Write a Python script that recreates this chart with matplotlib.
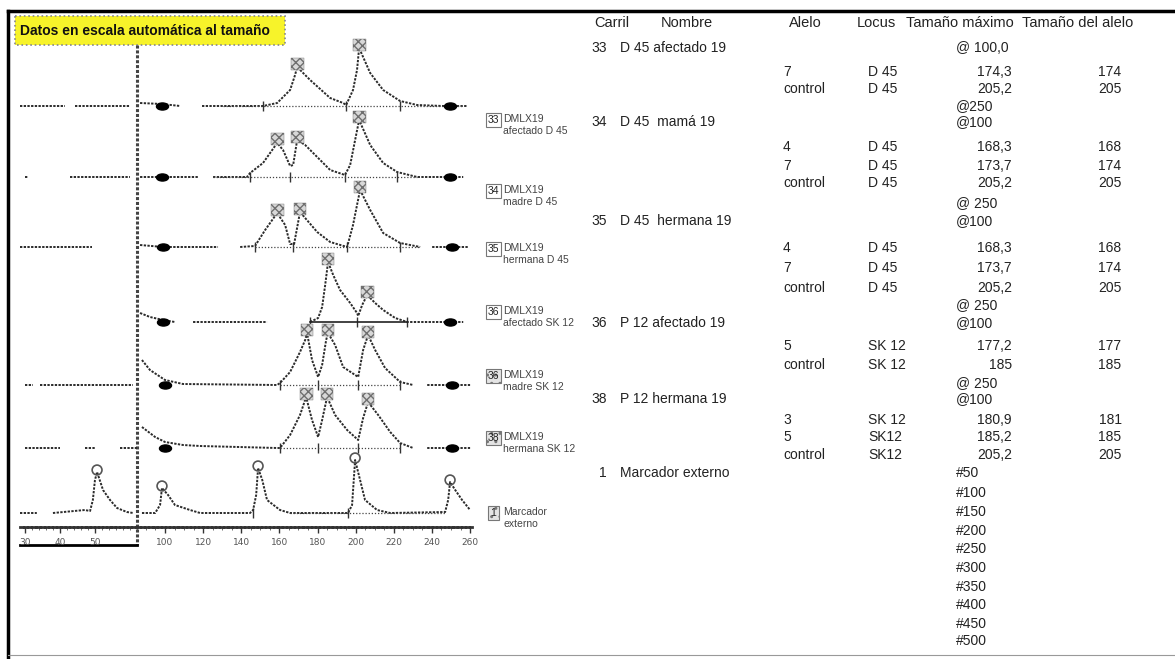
import matplotlib
matplotlib.use("Agg")
import matplotlib.pyplot as plt
from matplotlib.patches import Rectangle
from matplotlib.path import Path
from matplotlib.transforms import Affine2D
import numpy as np

nan = np.nan
W, H = 1175, 659

# ---- electropherogram traces (x in bp, h = signal above lane baseline) ----
lane33_x = [86.9, 98.4, 107.9, nan, 119.4, 128.9, 151.4, 158.8, 165.6, 168.2, 169.3, 176.1, 186.6, 193.4, 195.0,
            198.6, 200.7, 201.8, 207.6, 214.4, 223.3, 232.2, 245.9, 249.5, 258.5]
lane33_h = [3, 2, 0, nan, 0, 0, 0, 3, 16, 31, 39, 26, 8, 3, 1, 16, 36, 58, 33, 16, 5, 1, 0, 0, 0]

lane34_x = [86.9, 98.4, 117.3, nan, 125.2, 143.0, 144.6, 151.4, 158.8, 161.9, 165.6, 167.2, 169.3, 173.5, 179.8,
            186.6, 194.4, 197.1, 199.7, 201.8, 207.6, 214.4, 221.7, 232.2, 244.3, 249.5, 256.4]
lane34_h = [0, 0, 0, nan, 0, 0, 4, 14, 34, 27, 11, 12, 37, 32, 20, 7, 2, 12, 37, 57, 32, 14, 5, 0, 0, 0, 0]

lane35_x = [86.9, 99.0, 107.9, 127.8, nan, 139.4, 147.2, 152.5, 158.8, 163.0, 165.6, 167.7, 170.8, 179.8, 186.6,
            195.5, 198.6, 200.7, 202.3, 207.6, 214.4, 223.3, 233.8, nan, 240.1, 250.6, 259.0]
lane35_h = [2, 0, 0, 0, nan, 0, 1, 17, 34, 22, 3, 3, 35, 15, 5, 0, 22, 42, 57, 37, 14, 4, 0, nan, 0, 0, 0]

lane36a_x = [86.9, 92.1, 99.0, 105.2, nan, 114.7, 153.5, nan, 176.1, 180.3, 182.4, 184.0, 185.5, 188.2, 191.8,
             197.1, 200.7, 201.3, 203.4, 206.0, 210.2, 214.4, 220.7, 227.0, 239.1, 249.5, 256.4]
lane36a_h = [9, 5, 2, 0, nan, 0, 0, nan, 0, 4, 15, 37, 60, 47, 32, 19, 9, 6, 17, 27, 19, 12, 4, 0, 0, 0, 0]

lane36m_x = [87.9, 92.1, 100.0, 109.4, 158.8, 160.3, 165.6, 170.8, 173.5, 174.5, 177.1, 180.3, 182.4, 184.5,
             185.5, 189.2, 193.4, 201.3, 203.9, 206.5, 210.2, 215.4, 223.3, 230.1, nan, 237.5, 250.6, 260.0]
lane36m_h = [25, 15, 5, 1, 0, 2, 13, 33, 45, 52, 25, 8, 20, 45, 52, 40, 18, 8, 35, 50, 35, 17, 3, 0, nan, 0, 0, 0]

lane38_x = [87.9, 94.8, 100.0, 109.4, 118.4, 158.8, 160.3, 165.6, 170.8, 174.0, 177.1, 180.3, 182.4, 185.0,
            189.2, 195.5, 201.3, 203.9, 206.5, 211.8, 218.1, 223.3, 230.1, nan, 237.5, 250.6, 260.0]
lane38_h = [21, 11, 6, 3, 2, 0, 0, 13, 33, 51, 28, 11, 28, 51, 33, 18, 8, 30, 46, 33, 16, 5, 0, nan, 0, 0, 0]

marker_x = [87.9, 94.8, 97.4, 98.4, 101.6, 105.2, 113.1, 118.4, 144.6, 146.2, 147.8, 148.8, 151.0, 153.5, 160.3,
            165.6, 196.0, 198.1, 199.7, 202.3, 204.9, 211.2, 218.1, 246.9, 248.5, 249.5, 252.2, 255.8, 260.0]
marker_h = [0, 0, 8, 25, 18, 8, 3, 0, 0, 3, 18, 45, 33, 13, 3, 0, 0, 8, 53, 33, 13, 3, 0, 1, 13, 31, 23, 13, 3]

# left (auto-scaled) panel
left33_x, left33_h = [28.6, 41.4, nan, 44.3, 60.0], [0, 0, nan, 0, 0]
left34_x, left34_h = [30.0, 30.9, nan, 42.9, 60.0], [0, 0, nan, 0, 0]
left35_x, left35_h = [28.6, 49.1], [0, 0]
left36a_x, left36a_h = [], []
left36m_x, left36m_h = [30.0, 32.3, nan, 34.3, 60.9], [0, 0, nan, 0, 0]
left38_x, left38_h = [30.0, 40.0, nan, 47.1, 50.0, nan, 57.1, 62.0], [0, 0, nan, 0, 0, nan, 0, 0]
leftmk_x = [28.6, 33.4, nan, 38.0, 47.1, 48.6, 49.4, 50.0, 50.6, 52.3, 54.3, 56.3, 59.1, 60.9]
leftmk_h = [0, 0, nan, 0, 3, 2, 13, 33, 41, 23, 13, 5, 1, 0]

# called peaks (bp, height)
peaks33 = [(169.3, 39), (201.8, 58)]
peaks34 = [(158.8, 35), (169.3, 37), (201.8, 57)]
peaks35 = [(158.8, 34), (170.8, 35), (202.3, 57)]
peaks36a = [(185.5, 60), (206.0, 27)]
peaks36m = [(174.5, 52), (185.5, 52), (206.5, 50)]
peaks38 = [(174.0, 51), (185.0, 51), (206.5, 46)]
peaks_mk = [(98.4, 25), (148.8, 45), (199.7, 53), (249.5, 31)]
peaks_mk_left = [(50.6, 41)]

# peak boundaries and size standards (blobs)
bounds = [[151.4, 195.0, 223.3], [144.6, 165.6, 194.4, 221.7], [147.2, 167.2, 195.5, 223.3],
          [176.1, 200.7, 227.0], [160.3, 180.3, 201.3, 223.3], [160.3, 180.3, 201.3, 223.3], [146.2, 196.0]]
blobs = [[98.4, 249.5], [98.4, 249.5], [99.0, 250.6], [99.0, 249.5], [100.0, 250.6], [100.0, 250.6], []]
peak_base = [(130.4, 256.4), (125.2, 232.2), (147.2, 233.8), (176.1, 227.0), (160.3, 223.3), (160.3, 223.3),
             (165.6, 246.9)]

right_ticks = [100, 120, 140, 160, 180, 200, 220, 240, 260]
left_ticks = [30, 40, 50]

# ---- lane legend ----
lane_num = ["33", "34", "35", "36", "36", "38", "1"]
lane_l1 = ["DMLX19", "DMLX19", "DMLX19", "DMLX19", "DMLX19", "DMLX19", "Marcador"]
lane_l2 = ["afectado D 45", "madre D 45", "hermana D 45", "afectado SK 12", "madre SK 12", "hermana SK 12", "externo"]
lane_shaded = [False, False, False, False, True, True, True]

# ---- table ----
headers = ["Carril", "Nombre", "Alelo", "Locus", "Tamaño máximo", "Tamaño del alelo"]
carril = ["33", "", "", "", "34", "", "", "", "", "35", "", "", "", "", "36", "", "", "", "38", "", "", "", "1"]
nombre = ["D 45 afectado 19", "", "", "", "D 45  mamá 19", "", "", "", "", "D 45  hermana 19", "", "", "", "",
          "P 12 afectado 19", "", "", "", "P 12 hermana 19", "", "", "", "Marcador externo"]
alelo = ["", "7", "control", "", "", "4", "7", "control", "", "", "4", "7", "control", "", "",
         "5", "control", "", "", "3", "5", "control", ""]
locus = ["", "D 45", "D 45", "", "", "D 45", "D 45", "D 45", "", "", "D 45", "D 45", "D 45", "", "",
         "SK 12", "SK 12", "", "", "SK 12", "SK12", "SK12", ""]
tam_max = ["@ 100,0", "174,3", "205,2", "@250", "@100", "168,3", "173,7", "205,2", "@ 250", "@100", "168,3",
           "173,7", "205,2", "@ 250", "@100", "177,2", "185", "@ 250", "@100", "180,9", "185,2", "205,2",
           "#50", "#100", "#150", "#200", "#250", "#300", "#350", "#400", "#450", "#500"]
tam_alelo = ["", "174", "205", "", "", "168", "174", "205", "", "", "168", "174", "205", "", "",
             "177", "185", "", "", "181", "185", "205", ""]

# ---- layout (pixels) ----
row_y = [48, 72, 89, 106, 122, 147, 166, 183, 203, 221, 248, 268, 288, 305, 323, 346, 365, 383, 399,
         420, 437, 455, 473, 493, 512, 531, 549, 568, 587, 605, 624, 641]
lane_base_px = [106, 177, 247, 322, 385, 448, 513]
label_y = [119, 190, 248, 311, 375, 437, 512]
AX_TOP, AX_BOT = 45, 527

fig = plt.figure(figsize=(W / 100, H / 100), dpi=100)
ov = fig.add_axes([0, 0, 1, 1])
ov.set_xlim(0, W)
ov.set_ylim(H, 0)
ov.axis("off")

# frame
ov.plot([8, W], [11, 11], color="black", lw=2.5)
ov.plot([8, 8], [11, H], color="black", lw=2.5)
ov.plot([8, W], [655, 655], color="#999999", lw=0.8)

# title box
ov.add_patch(Rectangle((15, 16), 270, 29, facecolor="#f7f32a", edgecolor="#888888", lw=1.2, ls=":"))
ov.text(20, 31, "Datos en escala automática al tamaño", fontsize=10, fontweight="bold",
        family="Liberation Sans", va="center", color="#111111")

# panel frame lines
ov.plot([137, 137], [AX_TOP, 545], color="#444444", lw=2.2, ls=(0, (1, 0.6)))
ov.plot([20, 137], [545, 545], color="black", lw=2)


def panel(x0, x1):
    return fig.add_axes([x0 / W, 1 - AX_BOT / H, (x1 - x0) / W, (AX_BOT - AX_TOP) / H], facecolor="none")


blob = Path.unit_circle().transformed(Affine2D().scale(1.7, 1.0))
trace_kw = dict(color="#2b2b2b", lw=1.4, ls=(0, (1.2, 0.7)))
right = panel(137, 472)
left = panel(20, 137)
right.set_xlim(85.3, 261.0)
left.set_xlim(28.6, 62.0)

rx = [lane33_x, lane34_x, lane35_x, lane36a_x, lane36m_x, lane38_x, marker_x]
rh = [lane33_h, lane34_h, lane35_h, lane36a_h, lane36m_h, lane38_h, marker_h]
lx = [left33_x, left34_x, left35_x, left36a_x, left36m_x, left38_x, leftmk_x]
lh = [left33_h, left34_h, left35_h, left36a_h, left36m_h, left38_h, leftmk_h]
pk = [peaks33, peaks34, peaks35, peaks36a, peaks36m, peaks38]

for i, bpx in enumerate(lane_base_px):
    base = AX_BOT - bpx
    right.plot(rx[i], np.array(rh[i]) + base, **trace_kw)
    if lx[i]:
        left.plot(lx[i], np.array(lh[i]) + base, **trace_kw)
    s, e = peak_base[i]
    if i == 3:
        right.plot([s, e], [base, base], color="#222222", lw=1.2)
    else:
        right.plot([s, e], [base, base], color="#444444", lw=0.9, ls=(0, (1, 1.5)))
    right.scatter(bounds[i], [base] * len(bounds[i]), marker="|", s=60, color="#333333", lw=1)
    if blobs[i]:
        right.scatter(blobs[i], [base] * len(blobs[i]), marker=blob, s=75, color="black", zorder=4)
    if i < 6:
        px_, ph_ = zip(*pk[i])
        right.scatter(px_, np.array(ph_) + base + 3, marker="s", s=85, facecolor="#d8d8d8",
                      edgecolor="#6f6f6f", hatch="xxxx", lw=0.3, zorder=5, clip_on=False)
    else:
        px_, ph_ = zip(*peaks_mk)
        right.scatter(px_, np.array(ph_) + base + 2, marker="o", s=50, facecolor="none",
                      edgecolor="#555555", lw=1.2, zorder=5, clip_on=False)
        px_, ph_ = zip(*peaks_mk_left)
        left.scatter(px_, np.array(ph_) + base + 2, marker="o", s=50, facecolor="none",
                     edgecolor="#555555", lw=1.2, zorder=5, clip_on=False)

for ax, ticks in ((right, right_ticks), (left, left_ticks)):
    ax.set_ylim(0, AX_BOT - AX_TOP)
    for sp in ("top", "right", "left"):
        ax.spines[sp].set_visible(False)
    ax.spines["bottom"].set_color("#333333")
    ax.spines["bottom"].set_linewidth(2)
    ax.spines["bottom"].set_linestyle((0, (1, 0.5)))
    ax.set_yticks([])
    ax.set_xticks(ticks)
    ax.set_xticklabels([str(t) for t in ticks])
    ax.tick_params(axis="x", length=4, width=1, color="#333333", labelsize=6.5, labelcolor="#555555", pad=4)
    ax.minorticks_on()
    ax.tick_params(axis="x", which="minor", length=2, color="#555555")
    ax.tick_params(axis="y", which="both", left=False)

# lane legend
for i, y in enumerate(label_y):
    bb = dict(boxstyle="square,pad=0.2", facecolor="#e4e4e4" if lane_shaded[i] else "white",
              edgecolor="#777777", lw=0.8)
    if lane_shaded[i]:
        bb["hatch"] = ".."
    ov.text(493.5, y + 1, lane_num[i], fontsize=7.5, ha="center", va="center", color="#222222",
            family="Liberation Sans", bbox=bb, zorder=6)
    ov.text(503, y, lane_l1[i], fontsize=7.5, va="center", color="#444444", family="Liberation Sans")
    ov.text(503, y + 12, lane_l2[i], fontsize=7.5, va="center", color="#444444", family="Liberation Sans")

# table
tfont = dict(family="Liberation Sans", color="#222222", va="center")
hx = [612, 687, 805, 876, 960, 1022]
for j, h in enumerate(headers):
    ov.text(hx[j], 23, h, ha="left" if j == 5 else "center", fontsize=10.5, **tfont)
for k, y in enumerate(row_y):
    if k < len(carril):
        ov.text(607, y, carril[k], ha="right", fontsize=10, **tfont)
        ov.text(620, y, nombre[k], ha="left", fontsize=10, **tfont)
        ov.text(783, y, alelo[k], ha="left", fontsize=10, **tfont)
        ov.text(868, y, locus[k], ha="left", fontsize=10, **tfont)
        ov.text(1110, y, tam_alelo[k], ha="center", fontsize=10, **tfont)
    v = tam_max[k]
    if v[0] in "@#":
        ov.text(956, y, v, ha="left", fontsize=10, **tfont)
    else:
        ov.text(1012, y, v, ha="right", fontsize=10, **tfont)

fig.savefig("out.png", dpi=100, facecolor="white")
